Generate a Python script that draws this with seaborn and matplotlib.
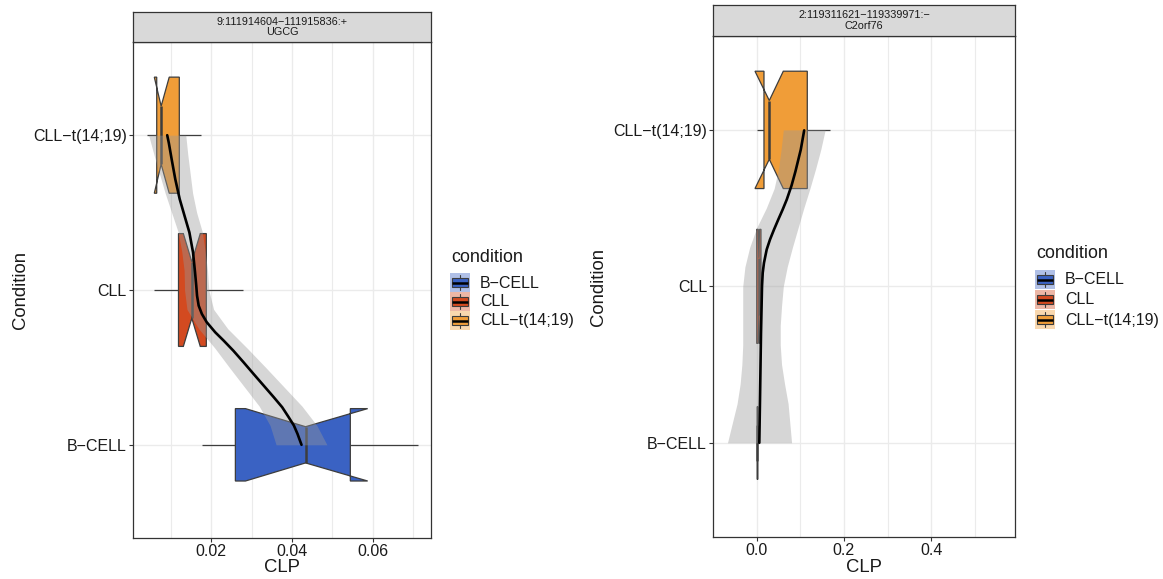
import numpy as np
import matplotlib
matplotlib.use("Agg")
import matplotlib.pyplot as plt
import seaborn as sns
import pandas as pd
from matplotlib.patches import Polygon, Rectangle

# ---------------- data ----------------
conditions = ["B-CELL", "CLL", "CLL-t(14;19)"]
tick_labels = ["B\u2212CELL", "CLL", "CLL\u2212t(14;19)"]
colors = ["#3A62C3", "#D34A20", "#F09D38"]
sample_n = [7, 17, 18]

# panel 1 : UGCG
p1_title = "9:111914604\u2212111915836:+\nUGCG"
p1_wlo = [0.0177, 0.0059, 0.0042]
p1_q1 = [0.0260, 0.0119, 0.0065]
p1_nlo = [0.0285, 0.0131, 0.0059]
p1_med = [0.0434, 0.0152, 0.0076]
p1_nhi = [0.0588, 0.0173, 0.0096]
p1_q3 = [0.0545, 0.0188, 0.0121]
p1_whi = [0.0713, 0.0279, 0.0175]
p1_xticks = [0.02, 0.04, 0.06]
p1_xticklabels = ["0.02", "0.04", "0.06"]
p1_xminor = [0.01, 0.03, 0.05, 0.07]

p1_fit_y = [1.0, 1.028, 1.071, 1.125, 1.179, 1.243, 1.308, 1.383, 1.458, 1.534,
            1.608, 1.673, 1.727, 1.792, 1.845, 1.899, 1.963, 2.028, 2.114, 2.243,
            2.372, 2.479, 2.587, 2.716, 2.845, 2.95, 3.0]
p1_fit = [0.0424, 0.0420, 0.0414, 0.0405, 0.0392, 0.0376, 0.0355, 0.0330, 0.0305,
          0.0280, 0.0255, 0.0231, 0.0210, 0.0189, 0.0177, 0.0169, 0.0165, 0.0163,
          0.0160, 0.0155, 0.0146, 0.0134, 0.0122, 0.0111, 0.0102, 0.0095, 0.0091]

band_y = [1.0, 1.125, 1.25, 1.375, 1.5, 1.625, 1.75, 1.875, 2.0,
          2.125, 2.25, 2.375, 2.5, 2.625, 2.75, 2.875, 3.0]
p1_lo = [0.0361, 0.0346, 0.0319, 0.0282, 0.0245, 0.0209, 0.0169, 0.0140, 0.0134,
         0.0133, 0.0127, 0.0118, 0.0102, 0.0086, 0.0072, 0.0058, 0.0045]
p1_hi = [0.0487, 0.0462, 0.0425, 0.0380, 0.0335, 0.0289, 0.0241, 0.0206, 0.0194,
         0.0191, 0.0185, 0.0178, 0.0164, 0.0154, 0.0148, 0.0142, 0.0137]

# panel 2 : C2orf76
p2_title = "2:119311621\u2212119339971:\u2212\nC2orf76"
p2_wlo = [0.0, 0.0, 0.0014]
p2_q1 = [0.0, 0.0, 0.0167]
p2_nlo = [0.0, 0.0035, -0.0039]
p2_med = [0.0, 0.0050, 0.0289]
p2_nhi = [0.0, 0.0065, 0.0610]
p2_q3 = [0.0, 0.0099, 0.1160]
p2_whi = [0.0, 0.0099, 0.1680]
p2_xticks = [0.0, 0.2, 0.4]
p2_xticklabels = ["0.0", "0.2", "0.4"]
p2_xminor = [0.1, 0.3, 0.5]

p2_fit_y = [1.0, 1.277, 1.703, 2.001, 2.086, 2.150, 2.235, 2.299, 2.363, 2.427,
            2.491, 2.555, 2.645, 2.734, 2.874, 2.997]
p2_fit = [0.0060, 0.0076, 0.0099, 0.0122, 0.0138, 0.0167, 0.0229, 0.0305, 0.0397,
          0.0495, 0.0596, 0.0690, 0.0800, 0.0888, 0.1011, 0.1089]
p2_lo = [-0.067, -0.056, -0.045, -0.038, -0.034, -0.032, -0.032, -0.032, -0.032,
         -0.027, -0.016, 0.000, 0.022, 0.040, 0.050, 0.056, 0.061]
p2_hi = [0.080, 0.076, 0.072, 0.064, 0.057, 0.054, 0.054, 0.057, 0.061,
         0.070, 0.082, 0.095, 0.108, 0.122, 0.135, 0.147, 0.157]

# ---------------- style ----------------
sns.set_theme(style="white")
plt.rcParams['font.family'] = ['Liberation Sans', 'DejaVu Sans']

W, H = 1163, 579
fig = plt.figure(figsize=(W / 100, H / 100), dpi=100)

EDGE = "#333333"
BOXEDGE = "#3D3D3D"
GRID = "#EBEBEB"
TXT = "#1A1A1A"


def fx(px):
    return px / W


def fy(py):
    return 1 - py / H


def draw_panel(rect, strip_rect, title, stats, fit_y, fit, lo, hi, xlim,
               xticks, xticklabels, xminor):
    ax = fig.add_axes(rect)
    wlo, q1, nlo, med, nhi, q3, whi = stats
    maxn = max(sample_n)
    for i, c in enumerate(conditions):
        yc = i + 1
        hh = 0.75 * np.sqrt(sample_n[i] / maxn) / 2
        ax.plot([wlo[i], q1[i]], [yc, yc], color=BOXEDGE, lw=0.9, zorder=2,
                solid_capstyle='butt')
        ax.plot([q3[i], whi[i]], [yc, yc], color=BOXEDGE, lw=0.9, zorder=2,
                solid_capstyle='butt')
        verts = [(q1[i], yc + hh), (nlo[i], yc + hh), (med[i], yc + hh / 2),
                 (nhi[i], yc + hh), (q3[i], yc + hh), (q3[i], yc - hh),
                 (nhi[i], yc - hh), (med[i], yc - hh / 2), (nlo[i], yc - hh),
                 (q1[i], yc - hh)]
        ax.add_patch(Polygon(verts, closed=True, facecolor=colors[i],
                             edgecolor=BOXEDGE, lw=0.9, zorder=3))
        ax.plot([med[i], med[i]], [yc - hh / 2, yc + hh / 2], color=BOXEDGE,
                lw=1.8, zorder=4, solid_capstyle='butt')
    ax.fill_betweenx(band_y, lo, hi, color="#999999", alpha=0.4, lw=0,
                     zorder=5)
    df = pd.DataFrame({"CLP": fit, "cond": fit_y})
    sns.lineplot(data=df, x="CLP", y="cond", orient="y", sort=False, ax=ax,
                 color="black", lw=1.9, zorder=6)
    ax.set_xlim(*xlim)
    ax.set_ylim(0.4, 3.6)
    ax.set_xticks(xticks)
    ax.set_xticklabels(xticklabels)
    ax.set_xticks(xminor, minor=True)
    ax.set_yticks([1, 2, 3])
    ax.set_yticklabels(tick_labels)
    ax.set_xlabel("")
    ax.set_ylabel("")
    ax.grid(False)
    for v in list(xticks) + list(xminor):
        ax.axvline(v, color=GRID, lw=1.0 if v in xticks else 0.8, zorder=0)
    for v in [1, 2, 3]:
        ax.axhline(v, color=GRID, lw=1.0, zorder=0)
    ax.tick_params(axis='both', which='major', direction='out', length=3,
                   width=0.8, color=EDGE, labelsize=11.5, labelcolor=TXT,
                   pad=1.5, bottom=True, left=True)
    ax.tick_params(axis='x', which='minor', length=0)
    for s in ax.spines.values():
        s.set_color(EDGE)
        s.set_linewidth(0.9)
        s.set_zorder(10)
    ax.set_facecolor("white")
    sax = fig.add_axes(strip_rect)
    sax.set_facecolor("#D9D9D9")
    sax.set_xticks([])
    sax.set_yticks([])
    for s in sax.spines.values():
        s.set_color(EDGE)
        s.set_linewidth(0.9)
    sax.text(0.5, 0.5, title, ha='center', va='center', fontsize=7.8,
             color=TXT, transform=sax.transAxes, linespacing=1.05)
    return ax


p1_stats = (p1_wlo, p1_q1, p1_nlo, p1_med, p1_nhi, p1_q3, p1_whi)
p2_stats = (p2_wlo, p2_q1, p2_nlo, p2_med, p2_nhi, p2_q3, p2_whi)

ax1 = draw_panel([fx(133), fy(537.7), 298 / W, 495.4 / H],
                 [fx(133), fy(42.3), 298 / W, 30.6 / H],
                 p1_title, p1_stats, p1_fit_y, p1_fit, p1_lo, p1_hi,
                 (0.00062, 0.0745), p1_xticks, p1_xticklabels, p1_xminor)
ax2 = draw_panel([fx(713.3), fy(536.7), 302 / W, 500.7 / H],
                 [fx(713.3), fy(36), 302 / W, 31 / H],
                 p2_title, p2_stats, p2_fit_y, p2_fit, p2_lo, p2_hi,
                 (-0.0995, 0.593), p2_xticks, p2_xticklabels, p2_xminor)

fig.text(fx(20), fy(290), "Condition", rotation=90, ha='center', va='center',
         fontsize=13.3, color=TXT)
fig.text(fx(282), fy(568), "CLP", ha='center', va='center', fontsize=13.3,
         color=TXT)
fig.text(fx(598), fy(287), "Condition", rotation=90, ha='center', va='center',
         fontsize=13.3, color=TXT)
fig.text(fx(864), fy(568), "CLP", ha='center', va='center', fontsize=13.3,
         color=TXT)

lax = fig.add_axes([0, 0, 1, 1])
lax.set_xlim(0, W)
lax.set_ylim(H, 0)
lax.axis('off')


def tint(c, a=0.4):
    rgb = np.array(matplotlib.colors.to_rgb(c))
    return tuple(a * rgb + (1 - a) * 1.0)


def draw_legend(x0, ytitle, ykeys, kw=20, kh=19):
    lax.text(x0 + 1, ytitle, "condition", ha='left', va='center',
             fontsize=12.9, color=TXT)
    for i, c in enumerate(conditions):
        yk = ykeys[i]
        lax.add_patch(Rectangle((x0, yk), kw, kh, facecolor=tint(colors[i]),
                                edgecolor='none'))
        bx0, bx1 = x0 + 2, x0 + kw - 2
        by0, by1 = yk + kh * 0.28, yk + kh * 0.72
        lax.plot([x0 + kw / 2] * 2, [yk + kh * 0.12, by0], color=BOXEDGE, lw=0.8)
        lax.plot([x0 + kw / 2] * 2, [by1, yk + kh * 0.88], color=BOXEDGE, lw=0.8)
        lax.add_patch(Rectangle((bx0, by0), bx1 - bx0, by1 - by0,
                                facecolor=colors[i], edgecolor=BOXEDGE, lw=0.8))
        lax.plot([bx0, bx1], [yk + kh / 2] * 2, color="black", lw=1.8,
                 solid_capstyle='butt')
        lax.text(x0 + kw + 10, yk + kh / 2 + 0.5, tick_labels[i], ha='left',
                 va='center', fontsize=11.5, color=TXT)


draw_legend(450, 257, [273, 292, 311])
draw_legend(1035, 253, [270, 290, 310])

fig.savefig("out.png", dpi=100, facecolor="white")
